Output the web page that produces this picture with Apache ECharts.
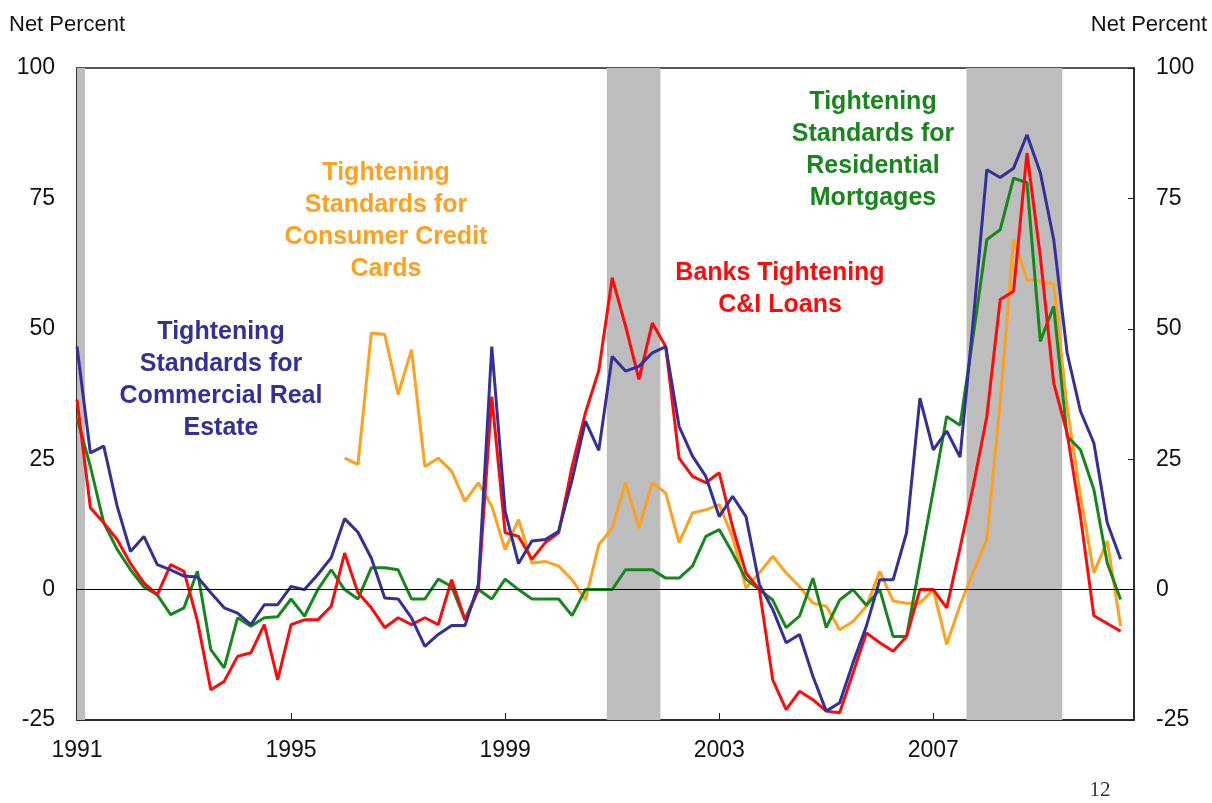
<!DOCTYPE html>
<html>
<head>
<meta charset="utf-8">
<script src="https://cdn.jsdelivr.net/npm/echarts@6/dist/echarts.min.js"></script>
<style>
  html, body { margin: 0; padding: 0; background: #fff; }
  #chart { width: 1212px; height: 803px; }
</style>
</head>
<body>
<div id="chart"></div>
<script>
// quarterly survey readings, 1991Q1 .. 2010Q3
const startYear = 1991;
const creLoans = [46.6, 26.2, 27.5, 16, 7.3, 10.2, 4.8, 3.8, 2.6, 2.4,
  -0.6, -3.5, -4.5, -6.7, -2.9, -2.9, 0.6, 0, 2.9, 6.1,
  13.6, 11, 6, -1.6, -1.8, -5.4, -10.9, -8.6, -6.9, -6.9,
  1, 46.6, 15, 5, 9.3, 9.6, 11.2, 21, 32.3, 26.7,
  44.7, 41.9, 42.8, 45.4, 46.6, 31.3, 25.6, 21.7, 14, 17.9,
  14, 1, -3.8, -10.2, -8.6, -16.6, -23.3, -21.7, -14, -7,
  1.9, 1.9, 10.9, 36.7, 26.8, 30.4, 25.4, 52, 80.5, 79,
  80.8, 87.2, 79.9, 67.1, 45.4, 34.2, 28.1, 12.8, 5.8];
const ciLoans = [36.4, 15.7, 12.8, 9.6, 5, 1.3, -1, 4.8, 3.5, -6,
  -19.2, -17.6, -12.8, -12.1, -6.7, -17.3, -6.7, -5.8, -5.8, -3.2,
  7, -0.6, -3.5, -7.3, -5.4, -6.7, -5.4, -6.7, 1.9, -5.8,
  0, 37, 10.9, 10.2, 5.8, 9, 10.9, 23.6, 33.9, 42,
  59.8, 50.5, 40.3, 51.1, 46.6, 25.2, 21.7, 20.5, 22.4, 12,
  3.2, 0, -17.3, -23, -19.5, -21.1, -23.3, -23.6, -16, -8.3,
  -10.2, -11.8, -9, 0, 0, -3.5, 8, 20, 33.2, 55.6,
  57.2, 83.7, 63.9, 39.6, 30, 14, -5, -6.5, -8];
const mortgages = [32.9, 23.6, 12.8, 7.7, 3.8, 0.5, -1, -4.8, -3.5, 3.5,
  -11.5, -15, -5.4, -7, -5.4, -5.2, -1.8, -5.1, 0, 3.8,
  0, -1.8, 4.2, 4.2, 3.8, -1.8, -1.8, 2, 0.6, -5.8,
  0, -1.8, 2, 0, -1.8, -1.8, -1.8, -5, 0, 0,
  0, 3.8, 3.8, 3.8, 2.2, 2.2, 4.5, 10.2, 11.5, 7,
  2, 0, -2, -7.3, -5.1, 2.2, -7.3, -2, 0, -3,
  0, -9, -9, 5, 19, 33.2, 31.5, 49, 67.1, 69,
  78.9, 78, 47.6, 54.3, 29.4, 26.8, 19.2, 5.1, -1.9];
// credit card series starts in 1996Q1
const creditCards = [null, null, null, null, null, null, null, null, null, null,
  null, null, null, null, null, null, null, null, null, null,
  25.2, 24, 49.2, 48.9, 37.4, 46, 23.6, 25.2, 22.7, 16.9,
  20.5, 16, 7.7, 13.4, 5.1, 5.4, 4.5, 1.9, -2, 8.6,
  11.8, 20.5, 11.8, 20.5, 18.5, 9, 14.7, 15.3, 16.3, 10,
  0.3, 3.2, 6.4, 3.2, 0.6, -2.6, -3.2, -7.7, -6.1, -3.2,
  3.5, -2.2, -2.6, -2.6, 0, -10.5, -3, 3.5, 9.6, 36,
  67.1, 59.4, 59.1, 58.5, 35, 18, 3.2, 9.3, -7];
// recessions (shaded)
const recessions = [[1991.0, 1991.15], [2000.9, 2001.9], [2007.62, 2009.41]];
const yTicks = { min: -25, max: 100, step: 25 };

function toPairs(arr) {
  return arr.map((v, i) => [startYear + i / 4, v]);
}

const chart = echarts.init(document.getElementById('chart'));
const font = "'Liberation Sans', Arial, sans-serif";

const yAxisBase = {
  type: 'value',
  min: yTicks.min,
  max: yTicks.max,
  interval: yTicks.step,
  splitLine: { show: false },
  axisLine: { show: true, lineStyle: { color: '#222', width: 1.5 } },
  axisTick: { show: true, inside: true, length: 6, lineStyle: { color: '#222' } },
  axisLabel: { color: '#111', fontSize: 23, fontFamily: font, margin: 22, padding: [5, 0, 0, 0] }
};

const lineBase = {
  type: 'line',
  showSymbol: false,
  symbol: 'none',
  connectNulls: false,
  z: 3
};

const labelFont = "bold 25px " + font;

const option = {
  animation: false,
  grid: { left: 77, right: 78, top: 68, bottom: 83, show: true, borderColor: '#222', borderWidth: 1.5, backgroundColor: 'transparent' },
  xAxis: {
    type: 'value',
    min: 1991,
    max: 2010.75,
    interval: 4,
    splitLine: { show: false },
    axisLine: { show: true, onZero: false, lineStyle: { color: '#222', width: 1.5 } },
    axisTick: { show: true, inside: true, length: 7, lineStyle: { color: '#222' } },
    axisLabel: { color: '#111', fontSize: 23, fontFamily: font, margin: 19, showMaxLabel: false,
      formatter: v => String(Math.round(v)) }
  },
  yAxis: [
    Object.assign({}, yAxisBase, { position: 'left' }),
    Object.assign({}, yAxisBase, { position: 'right' })
  ],
  series: [
    {
      type: 'line',
      data: [],
      z: 1,
      silent: true,
      markArea: {
        silent: true,
        itemStyle: { color: '#bdbdbd' },
        data: recessions.map(r => [{ xAxis: r[0] }, { xAxis: r[1] }])
      },
      markLine: {
        silent: true,
        symbol: 'none',
        label: { show: false },
        lineStyle: { color: '#000', width: 1, type: 'solid' },
        data: [{ yAxis: 0 }]
      }
    },
    Object.assign({}, lineBase, { name: 'Consumer Credit Cards', data: toPairs(creditCards), lineStyle: { color: '#ffa01e', width: 3 }, itemStyle: { color: '#ffa01e' } }),
    Object.assign({}, lineBase, { name: 'Residential Mortgages', data: toPairs(mortgages), lineStyle: { color: '#17871c', width: 3 }, itemStyle: { color: '#17871c' } }),
    Object.assign({}, lineBase, { name: 'C&I Loans', data: toPairs(ciLoans), lineStyle: { color: '#ff0a0a', width: 3 }, itemStyle: { color: '#ff0a0a' } }),
    Object.assign({}, lineBase, { name: 'Commercial Real Estate', data: toPairs(creLoans), lineStyle: { color: '#34309a', width: 3 }, itemStyle: { color: '#34309a' } })
  ],
  graphic: [
    { type: 'text', left: 9, top: 14, style: { text: 'Net Percent', font: "22px " + font, fill: '#111' } },
    { type: 'text', right: 5, top: 14, style: { text: 'Net Percent', font: "22px " + font, fill: '#111' } },
    { type: 'text', x: 1100, y: 790, style: { text: '12', font: "21px 'Liberation Serif', 'Times New Roman', serif", fill: '#333', align: 'center', verticalAlign: 'middle' } },
    { type: 'text', x: 221, y: 380, z: 10, style: { text: 'Tightening\nStandards for\nCommercial Real\nEstate', font: labelFont, fill: '#34309a', align: 'center', verticalAlign: 'middle', lineHeight: 32 } },
    { type: 'text', x: 386, y: 221, z: 10, style: { text: 'Tightening\nStandards for\nConsumer Credit\nCards', font: labelFont, fill: '#ffa01e', align: 'center', verticalAlign: 'middle', lineHeight: 32 } },
    { type: 'text', x: 780, y: 289, z: 10, style: { text: 'Banks Tightening\nC&I Loans', font: labelFont, fill: '#ff0a0a', align: 'center', verticalAlign: 'middle', lineHeight: 32 } },
    { type: 'text', x: 873, y: 150, z: 10, style: { text: 'Tightening\nStandards for\nResidential\nMortgages', font: labelFont, fill: '#17871c', align: 'center', verticalAlign: 'middle', lineHeight: 32 } }
  ]
};

chart.setOption(option);
window.addEventListener('resize', () => chart.resize());
</script>
</body>
</html>
